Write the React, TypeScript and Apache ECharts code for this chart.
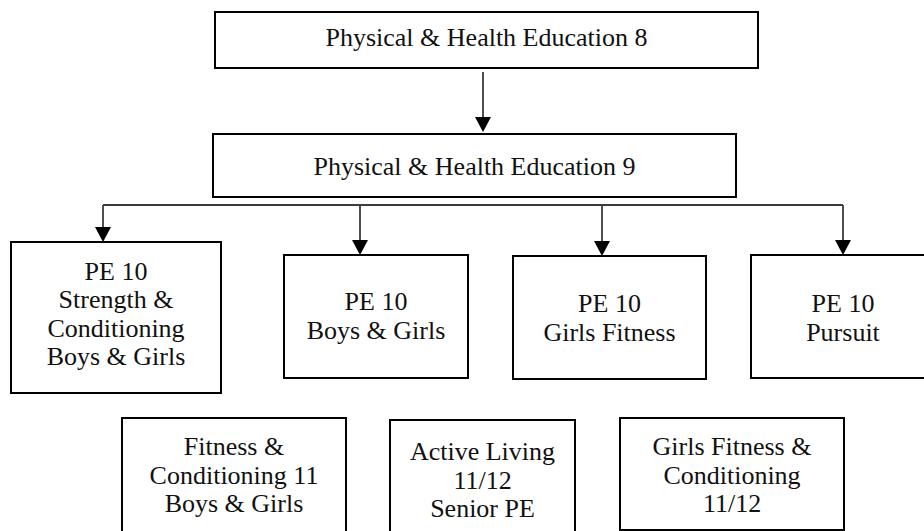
import React, { useEffect, useRef } from "react";
import * as echarts from "echarts";

// ---- Data: course names per level ----
const grade8Courses = ["Physical & Health Education 8"];
const grade9Courses = ["Physical & Health Education 9"];
const grade10Courses = [
  "PE 10\nStrength &\nConditioning\nBoys & Girls",
  "PE 10\nBoys & Girls",
  "PE 10\nGirls Fitness",
  "PE 10\nPursuit",
];
const seniorCourses = [
  "Fitness &\nConditioning 11\nBoys & Girls",
  "Active Living\n11/12\nSenior PE",
  "Girls Fitness &\nConditioning\n11/12",
];

// ---- Layout (pixel geometry): [x, y, width, height, textCenterY] ----
const grade8Layout = [[215, 12, 543, 56, 37]];
const grade9Layout = [[213, 134, 523, 63, 166]];
const grade10Layout = [
  [11, 242, 210, 151, 314],
  [284, 255, 184, 123, 316],
  [513, 256, 193, 123, 318],
  [751, 255, 184, 123, 318],
];
const seniorLayout = [
  [122, 418, 224, 125, 475],
  [390, 420, 185, 125, 480],
  [620, 418, 224, 112, 475],
];
const arrowX8to9 = 483;
const busY = 205;
const grade10ArrowX = [103, 360, 602, 843];

const FONT_FAMILY = "Liberation Serif";
const BOX_STROKE = "#000";
const LINK_STROKE = "#3c3c3c";

function boxElements(labels: string[], layout: number[][]) {
  const els: any[] = [];
  labels.forEach((label, i) => {
    const [x, y, w, h, ty] = layout[i];
    els.push({
      type: "rect",
      shape: { x, y, width: w, height: h },
      style: { fill: "#fff", stroke: BOX_STROKE, lineWidth: 2 },
      z: 1,
    });
    const lines = label.split("\n");
    const lh = 28.5;
    const top = ty - (lines.length * lh) / 2;
    lines.forEach((line, k) => {
      els.push({
        type: "text",
        x: x + w / 2,
        y: top + lh * (k + 0.5),
        style: {
          text: line,
          fontFamily: FONT_FAMILY,
          fontSize: 26,
          fill: "#111",
          align: "center",
          verticalAlign: "middle",
        },
        z: 2,
      });
    });
  });
  return els;
}

function arrow(x: number, yFrom: number, yTip: number) {
  const headH = 15;
  const headW = 8;
  return [
    {
      type: "line",
      shape: { x1: x, y1: yFrom, x2: x, y2: yTip - headH + 1 },
      style: { stroke: LINK_STROKE, lineWidth: 1.8 },
      z: 3,
    },
    {
      type: "polygon",
      shape: {
        points: [
          [x - headW, yTip - headH],
          [x + headW, yTip - headH],
          [x, yTip],
        ],
      },
      style: { fill: "#000" },
      z: 3,
    },
  ];
}

export default function App() {
  const ref = useRef<HTMLDivElement>(null);
  useEffect(() => {
    document.body.style.margin = "0";
    if (!ref.current) return;
    const chart = echarts.init(ref.current, null, { renderer: "svg" });

    const g8 = grade8Layout[0];
    const g9 = grade9Layout[0];
    const elements: any[] = [
      ...boxElements(grade8Courses, grade8Layout),
      ...boxElements(grade9Courses, grade9Layout),
      ...boxElements(grade10Courses, grade10Layout),
      ...boxElements(seniorCourses, seniorLayout),
      ...arrow(arrowX8to9, g8[1] + g8[3] + 4, g9[1] - 2),
      {
        type: "line",
        shape: {
          x1: grade10ArrowX[0],
          y1: busY,
          x2: grade10ArrowX[grade10ArrowX.length - 1],
          y2: busY,
        },
        style: { stroke: LINK_STROKE, lineWidth: 1.8 },
        z: 3,
      },
    ];
    grade10ArrowX.forEach((ax, i) => {
      elements.push(...arrow(ax, busY, grade10Layout[i][1]));
    });

    chart.setOption({
      animation: false,
      backgroundColor: "#fff",
      graphic: { elements },
    });
    return () => chart.dispose();
  }, []);
  return <div ref={ref} style={{ width: 924, height: 531 }} />;
}
